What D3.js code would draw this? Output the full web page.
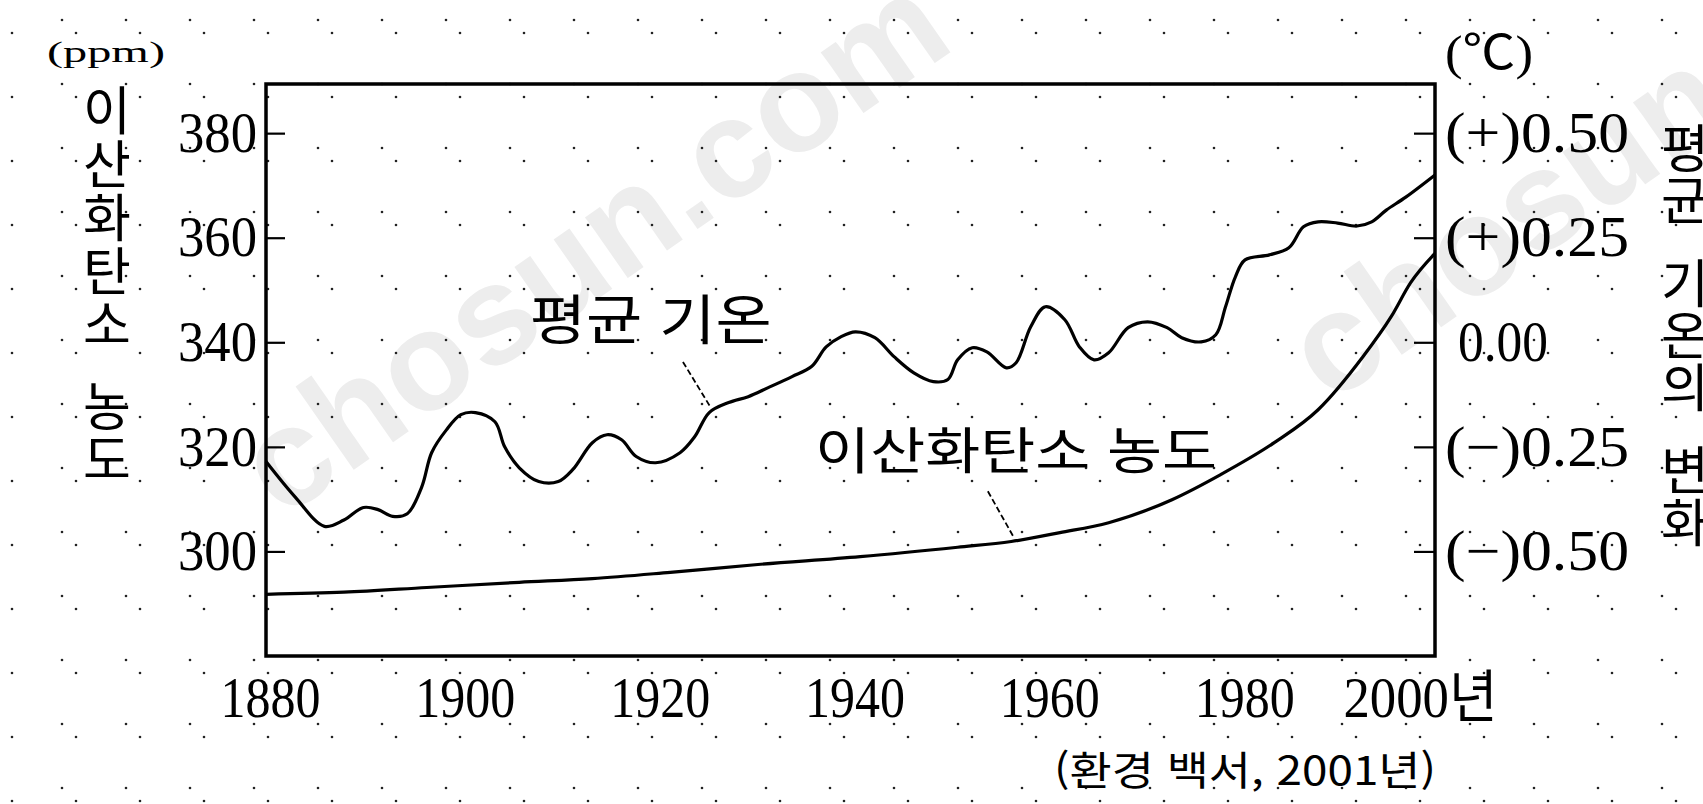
<!DOCTYPE html>
<html lang="ko">
<head>
<meta charset="utf-8">
<title>이산화탄소 농도와 평균 기온의 변화</title>
<script src="https://cdn.jsdelivr.net/npm/d3@7"></script>
<style>
  html, body { margin: 0; padding: 0; background: #fff; }
  figure { margin: 0; }
  svg { display: block; }
</style>
</head>
<body>
<figure id="chart"></figure>
<script>
// x axis: years
const years = [1880, 1900, 1920, 1940, 1960, 1980, 2000];
// left axis: CO2 concentration (ppm)
const co2Ticks = [300, 320, 340, 360, 380];
// right axis: temperature change (℃)
const tempTicks = [-0.5, -0.25, 0, 0.25, 0.5];
const tempTickLabels = ["(−)0.50", "(−)0.25", "0.00", "(+)0.25", "(+)0.50"];

// 이산화탄소 농도 (ppm)
const co2Year  = [1880, 1888, 1896.5, 1906, 1913.5, 1921.5, 1930.5, 1941, 1951, 1956.5,
                  1961.5, 1966.5, 1973, 1978, 1983.5, 1988, 1992.5, 1995.5, 1997.5, 2000];
const co2Value = [291.8, 292.2, 293.1, 294.1, 294.8, 296.0, 297.5, 299.0, 300.8, 301.9,
                  303.6, 305.5, 309.9, 314.7, 320.8, 327.1, 337.0, 344.9, 351.4, 357.0];

// 평균 기온 변화 (℃)
const tempYear  = [1880, 1883, 1886, 1888, 1890, 1891.5, 1893, 1894.5, 1896, 1897,
                   1898.5, 1900, 1901.5, 1903.5, 1904.5, 1906, 1908, 1910, 1911.5, 1913.5,
                   1915, 1916.5, 1918, 1920, 1922.5, 1924, 1925.5, 1927.5, 1929.5, 1931.5,
                   1934, 1936, 1937.5, 1939, 1940.5, 1942.5, 1944.5, 1946.5, 1948.5, 1950,
                   1951, 1952.5, 1954, 1956, 1957, 1958.5, 1960, 1962, 1963.5, 1965,
                   1966.5, 1968.5, 1970.5, 1972.5, 1974, 1976, 1977.5, 1978.5, 1979.5, 1980.5,
                   1983, 1985, 1986.5, 1988, 1990, 1992, 1993.5, 1995, 1997, 2000];
const tempValue = [-0.285, -0.37, -0.44, -0.425, -0.395, -0.40, -0.416, -0.41, -0.345, -0.264,
                   -0.21, -0.173, -0.168, -0.19, -0.25, -0.30, -0.333, -0.333, -0.304, -0.24,
                   -0.221, -0.233, -0.273, -0.288, -0.264, -0.226, -0.168, -0.144, -0.13, -0.109,
                   -0.082, -0.058, -0.011, 0.013, 0.025, 0.011, -0.035, -0.073, -0.094, -0.089,
                   -0.042, -0.013, -0.023, -0.061, -0.049, 0.037, 0.085, 0.054, -0.011, -0.042,
                   -0.025, 0.035, 0.049, 0.035, 0.011, 0.001, 0.018, 0.085, 0.156, 0.197,
                   0.209, 0.226, 0.276, 0.288, 0.285, 0.278, 0.288, 0.316, 0.347, 0.40];

const leftTitle = ["이", "산", "화", "탄", "소", " ", "농", "도"];
const rightTitle = ["평", "균", " ", "기", "온", "의", " ", "변", "화"];

const width = 1703, height = 804;
const plot = {left: 266, right: 1435, top: 84, bottom: 656};
const serif = '"Liberation Serif", "Noto Sans CJK KR", serif';
const korean = '"Noto Sans CJK KR", sans-serif';

const svg = d3.select("#chart")
  .append("svg")
  .attr("width", width)
  .attr("height", height);

// dotted paper background
const pattern = svg.append("defs").append("pattern")
  .attr("id", "dots")
  .attr("patternUnits", "userSpaceOnUse")
  .attr("width", 64)
  .attr("height", 64);
pattern.append("circle").attr("cx", 62).attr("cy", 20).attr("r", 1.3).attr("fill", "#222");
pattern.append("circle").attr("cx", 12).attr("cy", 33).attr("r", 1.3).attr("fill", "#222");

svg.append("rect").attr("width", width).attr("height", height).attr("fill", "#fff");

// watermark
[[282, 520], [1330, 405]].forEach(p => {
  svg.append("text")
    .attr("transform", `translate(${p[0]},${p[1]}) rotate(-35)`)
    .attr("font-family", '"Liberation Sans", Arial, sans-serif')
    .attr("font-weight", "bold")
    .attr("font-size", 140)
    .attr("fill", "#ededed")
    .text("chosun.com");
});

svg.append("rect").attr("width", width).attr("height", height).attr("fill", "url(#dots)");

// scales
const x = d3.scaleLinear().domain([1880, 2000]).range([plot.left, plot.right]);
const yL = d3.scaleLinear().domain([280, 389.4]).range([plot.bottom, plot.top]);
const yR = d3.scaleLinear().domain([-0.75, 0.6175]).range([plot.bottom, plot.top]);

// X axis
const gx = svg.append("g")
  .attr("transform", `translate(0,${plot.bottom})`)
  .call(d3.axisBottom(x).tickValues(years).tickSize(0).tickPadding(21)
    .tickFormat(d => d === 2000 ? "2000년" : d));
gx.select(".domain").remove();
gx.selectAll("text")
  .attr("font-family", serif)
  .attr("font-size", 57)
  .attr("fill", "#000")
  .attr("dx", 4)
  .attr("textLength", d => d === 2000 ? 154 : 100)
  .attr("lengthAdjust", "spacingAndGlyphs");
gx.selectAll(".tick").filter(d => d === 2000).select("text")
  .attr("text-anchor", "start")
  .attr("dx", -92);

// left Y axis (ppm)
const gl = svg.append("g")
  .attr("transform", `translate(${plot.left},0)`)
  .call(d3.axisLeft(yL).tickValues(co2Ticks).tickSizeInner(-19).tickSizeOuter(0).tickPadding(9));
gl.select(".domain").remove();
gl.selectAll("line").attr("stroke", "#000").attr("stroke-width", 2.2);
gl.selectAll("text")
  .attr("font-family", serif)
  .attr("font-size", 57)
  .attr("fill", "#000")
  .attr("textLength", 79)
  .attr("lengthAdjust", "spacingAndGlyphs");

// right Y axis (℃)
const gr = svg.append("g")
  .attr("transform", `translate(${plot.right},0)`)
  .call(d3.axisRight(yR).tickValues(tempTicks).tickSizeInner(-21).tickSizeOuter(0).tickPadding(10)
    .tickFormat((d, i) => tempTickLabels[i]));
gr.select(".domain").remove();
gr.selectAll("line").attr("stroke", "#000").attr("stroke-width", 2.2);
gr.selectAll("text")
  .attr("font-family", serif)
  .attr("font-size", 57)
  .attr("fill", "#000")
  .attr("textLength", d => d === 0 ? 90 : 184)
  .attr("lengthAdjust", "spacingAndGlyphs");
gr.selectAll(".tick").filter(d => d === 0).select("text").attr("x", 23);

// curves
const co2 = co2Year.map((yr, i) => ({year: yr, value: co2Value[i]}));
const temp = tempYear.map((yr, i) => ({year: yr, value: tempValue[i]}));

svg.append("path")
  .datum(co2)
  .attr("fill", "none")
  .attr("stroke", "#000")
  .attr("stroke-width", 3.2)
  .attr("d", d3.line().curve(d3.curveMonotoneX).x(d => x(d.year)).y(d => yL(d.value)));

svg.append("path")
  .datum(temp)
  .attr("fill", "none")
  .attr("stroke", "#000")
  .attr("stroke-width", 3.2)
  .attr("stroke-linejoin", "round")
  .attr("d", d3.line().curve(d3.curveCatmullRom).x(d => x(d.year)).y(d => yR(d.value)));

// frame
svg.append("rect")
  .attr("x", plot.left)
  .attr("y", plot.top)
  .attr("width", plot.right - plot.left)
  .attr("height", plot.bottom - plot.top)
  .attr("fill", "none")
  .attr("stroke", "#000")
  .attr("stroke-width", 3.5);

// series labels and leader lines
const leader = (a, b, ys) => svg.append("line")
  .attr("x1", x(a[0])).attr("y1", ys(a[1]))
  .attr("x2", x(b[0])).attr("y2", ys(b[1]))
  .attr("stroke", "#000")
  .attr("stroke-width", 1.8)
  .attr("stroke-dasharray", "6 3");
leader([1922.8, -0.047], [1925.6, -0.154], yR);
leader([1954.1, 311.5], [1956.7, 302.9], yL);

svg.append("text")
  .attr("x", x(1919.5)).attr("y", yR(0.061))
  .attr("text-anchor", "middle").attr("dominant-baseline", "central")
  .attr("font-family", korean).attr("font-size", 54)
  .attr("textLength", 242).attr("lengthAdjust", "spacingAndGlyphs")
  .text("평균 기온");

svg.append("text")
  .attr("x", x(1957)).attr("y", yL(319.9))
  .attr("text-anchor", "middle").attr("dominant-baseline", "central")
  .attr("font-family", korean).attr("font-size", 50)
  .attr("textLength", 402).attr("lengthAdjust", "spacingAndGlyphs")
  .text("이산화탄소 농도");

// axis titles (stacked upright)
let yPos = 107.5;
leftTitle.forEach(c => {
  if (c === " ") { yPos += 28; return; }
  svg.append("text")
    .attr("x", 107).attr("y", yPos)
    .attr("text-anchor", "middle").attr("dominant-baseline", "central")
    .attr("font-family", korean).attr("font-size", 52)
    .text(c);
  yPos += 53.5;
});

yPos = 145;
rightTitle.forEach(c => {
  if (c === " ") { yPos += 31; return; }
  svg.append("text")
    .attr("x", 1685).attr("y", yPos)
    .attr("text-anchor", "middle").attr("dominant-baseline", "central")
    .attr("font-family", korean).attr("font-size", 52)
    .text(c);
  yPos += 52;
});

// units
svg.append("text")
  .attr("x", 106).attr("y", 51)
  .attr("text-anchor", "middle").attr("dominant-baseline", "central")
  .attr("font-family", serif).attr("font-size", 30)
  .attr("textLength", 118).attr("lengthAdjust", "spacingAndGlyphs")
  .text("(ppm)");

svg.append("text")
  .attr("x", 1489).attr("y", 52)
  .attr("text-anchor", "middle").attr("dominant-baseline", "central")
  .attr("font-family", serif).attr("font-size", 48)
  .attr("textLength", 88).attr("lengthAdjust", "spacingAndGlyphs")
  .text("(℃)");

// source
svg.append("text")
  .attr("x", 1436).attr("y", 768)
  .attr("text-anchor", "end").attr("dominant-baseline", "central")
  .attr("font-family", korean).attr("font-size", 40)
  .attr("textLength", 382).attr("lengthAdjust", "spacingAndGlyphs")
  .text("(환경 백서, 2001년)");
</script>
</body>
</html>
